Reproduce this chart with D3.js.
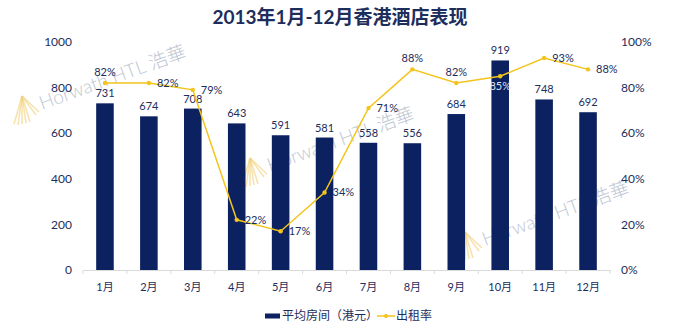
<!DOCTYPE html>
<html>
<head>
<meta charset="utf-8">
<script src="https://cdn.jsdelivr.net/npm/d3@7"></script>
<style>
  body { margin: 0; background: #fff; }
  svg text { font-family: Lato, "Noto Sans CJK SC", sans-serif; }
</style>
</head>
<body>
<div class="chart-area"></div>
<script>
// monthly figures
let months = ["1月", "2月", "3月", "4月", "5月", "6月", "7月", "8月", "9月", "10月", "11月", "12月"];
let avgRoomRate = [731, 674, 708, 643, 591, 581, 558, 556, 684, 919, 748, 692];
let occupancy = [82, 82, 79, 22, 17, 34, 71, 88, 82, 85, 93, 88];
let leftTicks = [0, 200, 400, 600, 800, 1000];
let rightTicks = [0, 20, 40, 60, 80, 100];
// where each occupancy label sits relative to its point
let rateLabelSide = ["above", "right", "right", "right", "right", "right", "right", "above", "above", "below", "right", "right"];

let width = 679, height = 328;
let navy = "#0b2160", textNavy = "#1d2d5c", gold = "#f3c41c";

let svg = d3.select("div.chart-area").append("svg")
  .attr("width", width)
  .attr("height", height);

let x = d3.scaleBand()
  .domain(months)
  .range([83, 610])
  .paddingInner(0.6)
  .paddingOuter(0.3);

let bandX = d3.scaleBand().domain(months).range([83, 610]);

let yLeft = d3.scaleLinear().domain([0, 1000]).range([270, 42]);
let yRight = d3.scaleLinear().domain([0, 100]).range([270, 42]);

// title
svg.append("text")
  .attr("x", 340)
  .attr("y", 24)
  .attr("text-anchor", "middle")
  .attr("font-size", 19)
  .attr("font-weight", "bold")
  .attr("fill", textNavy)
  .text("2013年1月-12月香港酒店表现");

// faint company watermarks behind the bars
let marks = [[42, 110], [270, 172], [485, 246]];
marks.forEach(function(m) {
  let g = svg.append("g").attr("transform", "translate(" + m[0] + "," + m[1] + ")");
  // gold fan logo: streaks converging on a tip
  let tip = [-20, -14];
  let ends = [[-28, 14], [-24, 15], [-20, 14], [-16, 13], [-12, 12], [-3, 2], [-6, 5]];
  ends.forEach(function(e) {
    g.append("line")
      .attr("x1", tip[0]).attr("y1", tip[1])
      .attr("x2", e[0]).attr("y2", e[1])
      .attr("stroke", "#f2d27c")
      .attr("stroke-width", 1.6)
      .attr("opacity", 0.6);
  });
  g.append("text")
    .attr("transform", "rotate(-20)")
    .attr("font-size", 19)
    .attr("font-weight", 300)
    .attr("fill", "#aab4c5")
    .attr("opacity", 0.75)
    .text("Horwath HTL 浩華");
});

// left axis labels
svg.append("g").selectAll("text")
  .data(leftTicks)
  .enter().append("text")
  .attr("x", 72)
  .attr("y", function(d) { return yLeft(d); })
  .attr("dy", "0.35em")
  .attr("text-anchor", "end")
  .attr("font-size", 12)
  .attr("fill", textNavy)
  .text(function(d) { return d; });

// right axis labels
svg.append("g").selectAll("text")
  .data(rightTicks)
  .enter().append("text")
  .attr("x", 621)
  .attr("y", function(d) { return yRight(d); })
  .attr("dy", "0.35em")
  .attr("font-size", 12)
  .attr("fill", textNavy)
  .text(function(d) { return d + "%"; });

// bars
svg.append("g").selectAll("rect")
  .data(avgRoomRate)
  .enter().append("rect")
  .attr("x", function(d, i) { return x(months[i]); })
  .attr("y", function(d) { return yLeft(d); })
  .attr("width", x.bandwidth())
  .attr("height", function(d) { return 270 - yLeft(d); })
  .attr("fill", navy);

svg.append("g").selectAll("text")
  .data(avgRoomRate)
  .enter().append("text")
  .attr("x", function(d, i) { return x(months[i]) + x.bandwidth() / 2; })
  .attr("y", function(d) { return yLeft(d) - 6; })
  .attr("text-anchor", "middle")
  .attr("font-size", 11)
  .attr("fill", textNavy)
  .text(function(d) { return d; });

// category axis
let xAxis = d3.axisBottom(bandX).tickSize(4).tickSizeOuter(0);
let axisG = svg.append("g")
  .attr("transform", "translate(0,270)")
  .call(xAxis);
axisG.select(".domain").attr("stroke", "#d9d9d9");
axisG.selectAll(".tick line").remove();
bandX.domain().concat([null]).forEach(function(m, i) {
  let px = 83 + i * bandX.bandwidth();
  axisG.append("line")
    .attr("x1", px).attr("x2", px)
    .attr("y1", 0).attr("y2", 4)
    .attr("stroke", "#d9d9d9");
});
axisG.selectAll(".tick text")
  .attr("y", 13)
  .attr("font-size", 11)
  .attr("font-family", "Lato, 'Noto Sans CJK SC', sans-serif")
  .attr("fill", textNavy);

// occupancy line
let cx = function(i) { return bandX(months[i]) + bandX.bandwidth() / 2; };
let line = d3.line()
  .x(function(d, i) { return cx(i); })
  .y(function(d) { return yRight(d); });

svg.append("path")
  .datum(occupancy)
  .attr("d", line)
  .attr("fill", "none")
  .attr("stroke", gold)
  .attr("stroke-width", 1.5);

svg.append("g").selectAll("circle")
  .data(occupancy)
  .enter().append("circle")
  .attr("cx", function(d, i) { return cx(i); })
  .attr("cy", function(d) { return yRight(d); })
  .attr("r", 2.2)
  .attr("fill", gold);

svg.append("g").selectAll("text")
  .data(occupancy)
  .enter().append("text")
  .attr("x", function(d, i) { return rateLabelSide[i] === "right" ? cx(i) + 8 : cx(i); })
  .attr("y", function(d, i) {
    let py = yRight(d);
    if (rateLabelSide[i] === "above") return py - 7;
    if (rateLabelSide[i] === "below") return py + 14;
    return py + 4;
  })
  .attr("text-anchor", function(d, i) { return rateLabelSide[i] === "right" ? "start" : "middle"; })
  .attr("font-size", 11)
  .attr("fill", function(d, i) { return rateLabelSide[i] === "below" ? "#dfe4f0" : textNavy; })
  .text(function(d) { return d + "%"; });

// legend
let legend = svg.append("g").attr("transform", "translate(265,316)");
legend.append("rect")
  .attr("x", 0).attr("y", -2.5)
  .attr("width", 15).attr("height", 5)
  .attr("fill", navy);
legend.append("text")
  .attr("x", 17).attr("dy", "0.35em")
  .attr("font-size", 12)
  .attr("fill", textNavy)
  .text("平均房间（港元）");
legend.append("line")
  .attr("x1", 112).attr("x2", 130)
  .attr("stroke", gold).attr("stroke-width", 1.5);
legend.append("circle")
  .attr("cx", 121).attr("r", 2).attr("fill", gold);
legend.append("text")
  .attr("x", 131).attr("dy", "0.35em")
  .attr("font-size", 12)
  .attr("fill", textNavy)
  .text("出租率");
</script>
</body>
</html>
